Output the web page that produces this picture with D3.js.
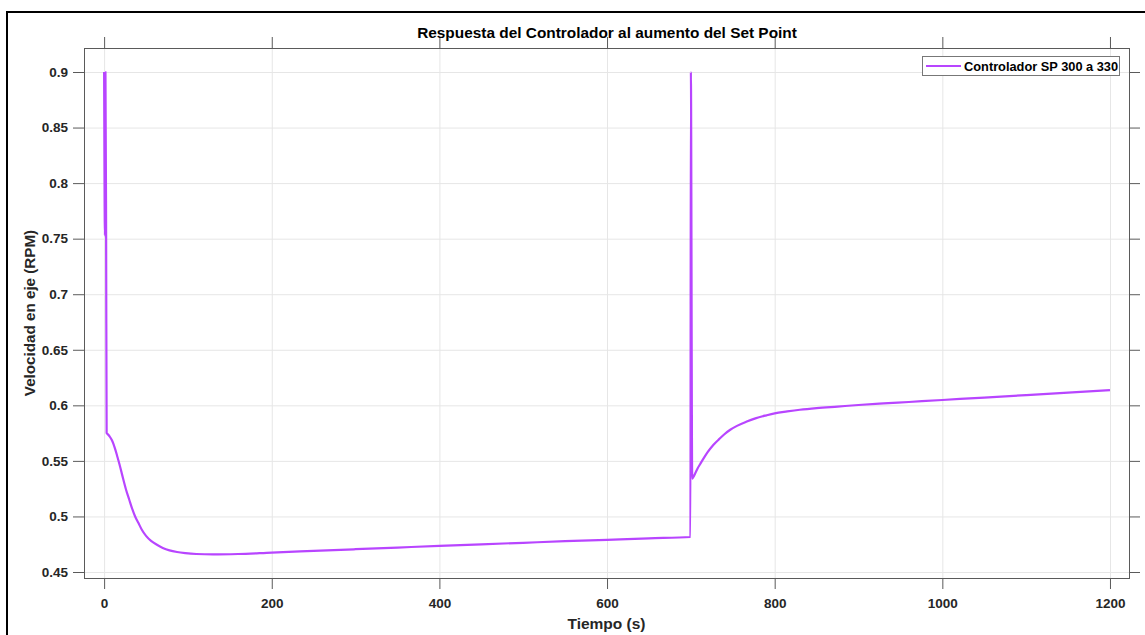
<!DOCTYPE html>
<html>
<head>
<meta charset="utf-8">
<script src="https://cdn.jsdelivr.net/npm/d3@7"></script>
<style>
  html, body { margin: 0; padding: 0; background: #fff; }
  svg { display: block; font-family: "Liberation Sans", Arial, sans-serif; }
  .tick text { font-weight: bold; fill: #262626; }
</style>
</head>
<body>
<svg id="chart" width="1145" height="635"></svg>
<script>
// Controller response: time (s) and shaft speed (RPM)
const time = [0, 1, 1.6, 2.4, 3, 5, 7, 9, 11, 13, 15, 17, 19, 21, 23, 26, 30, 33, 37, 41, 45, 50, 56, 63, 70, 78, 87, 97, 110, 130, 160, 200, 250, 300, 350, 400, 450, 500, 550, 600, 650, 699.5,
  700, 701.6, 703, 705, 708, 711, 715, 720, 727, 734, 740, 747, 755, 766, 777, 790, 800, 815, 830, 850, 875, 900, 930, 960, 1000, 1050, 1100, 1150, 1200];
const speed = [0.9, 0.753, 0.9, 0.753, 0.575, 0.5735, 0.5715, 0.569, 0.5655, 0.561, 0.556, 0.5505, 0.545, 0.539, 0.533, 0.5245, 0.515, 0.508, 0.500, 0.494, 0.488, 0.4825, 0.478, 0.4745, 0.4717, 0.4695, 0.468, 0.467, 0.4662, 0.4658, 0.4662, 0.4675, 0.469, 0.4705, 0.472, 0.4735, 0.4749, 0.4763, 0.4777, 0.479, 0.4803, 0.4815,
  0.9, 0.534, 0.5355, 0.5385, 0.5432, 0.547, 0.552, 0.5578, 0.5645, 0.5698, 0.574, 0.578, 0.5815, 0.5852, 0.5883, 0.591, 0.5928, 0.5945, 0.596, 0.5975, 0.5989, 0.6003, 0.6017, 0.603, 0.6048, 0.607, 0.6092, 0.6114, 0.6137];

const xTicks = [0, 200, 400, 600, 800, 1000, 1200];
const yTicks = [0.45, 0.5, 0.55, 0.6, 0.65, 0.7, 0.75, 0.8, 0.85, 0.9];
const yTickLabels = ["0.45", "0.5", "0.55", "0.6", "0.65", "0.7", "0.75", "0.8", "0.85", "0.9"];

const titleText = "Respuesta del Controlador al aumento del Set Point";
const xLabel = "Tiempo (s)";
const yLabel = "Velocidad en eje (RPM)";
const seriesName = "Controlador SP 300 a 330";
const lineColor = "#b845ff";

const svg = d3.select("#chart");
const W = 1145, H = 635;
const box = { left: 84, right: 1129, top: 48, bottom: 578 };

// outer figure border (left and top edges fall inside the canvas)
svg.append("rect")
  .attr("x", 7).attr("y", 12)
  .attr("width", W + 50).attr("height", H + 50)
  .attr("fill", "none").attr("stroke", "#000").attr("stroke-width", 2);

const x = d3.scaleLinear().domain([-24, 1222.7]).range([box.left, box.right]);
const y = d3.scaleLinear().domain([0.4446, 0.9216]).range([box.bottom, box.top]);

const tickLen = 11;

// grid
const grid = svg.append("g").attr("class", "grid");
grid.append("g")
  .attr("transform", `translate(0,${box.bottom})`)
  .call(d3.axisBottom(x).tickValues(xTicks).tickSize(-(box.bottom - box.top)).tickFormat(""))
  .call(g => g.select(".domain").remove())
  .call(g => g.selectAll("line").attr("stroke", "#e6e6e6"));
grid.append("g")
  .attr("transform", `translate(${box.left},0)`)
  .call(d3.axisLeft(y).tickValues(yTicks).tickSize(-(box.right - box.left)).tickFormat(""))
  .call(g => g.select(".domain").remove())
  .call(g => g.selectAll("line").attr("stroke", "#e6e6e6"));

// axes with outward ticks
const axisColor = "#5a5a5a";
function styleAxis(g) {
  g.select(".domain").remove();
  g.selectAll(".tick line").attr("stroke", axisColor);
  g.selectAll(".tick text").attr("font-size", 13.5).attr("font-weight", "bold").attr("fill", "#262626");
}
svg.append("g")
  .attr("transform", `translate(0,${box.bottom})`)
  .call(d3.axisBottom(x).tickValues(xTicks).tickSize(tickLen).tickPadding(9).tickFormat(d3.format("d")))
  .call(styleAxis);
svg.append("g")
  .attr("transform", `translate(0,${box.top})`)
  .call(d3.axisTop(x).tickValues(xTicks).tickSize(tickLen).tickFormat(""))
  .call(styleAxis);
svg.append("g")
  .attr("transform", `translate(${box.left},0)`)
  .call(d3.axisLeft(y).tickValues(yTicks).tickSize(tickLen).tickPadding(5)
    .tickFormat((d, i) => yTickLabels[i]))
  .call(styleAxis);
svg.append("g")
  .attr("transform", `translate(${box.right},0)`)
  .call(d3.axisRight(y).tickValues(yTicks).tickSize(tickLen).tickFormat(""))
  .call(styleAxis);

// axes box
svg.append("rect")
  .attr("x", box.left + 0.5).attr("y", box.top + 0.5)
  .attr("width", box.right - box.left).attr("height", box.bottom - box.top)
  .attr("fill", "none").attr("stroke", axisColor).attr("stroke-width", 1);

// series line
const data = time.map((t, i) => ({ t, v: speed[i] }));
svg.append("path")
  .datum(data)
  .attr("fill", "none")
  .attr("stroke", lineColor)
  .attr("stroke-width", 2.2)
  .attr("stroke-linejoin", "round")
  .attr("d", d3.line().curve(d3.curveMonotoneX).x(d => x(d.t)).y(d => y(d.v)));

// title and axis labels
svg.append("text")
  .attr("x", (box.left + box.right) / 2 + 0.5).attr("y", 38)
  .attr("text-anchor", "middle")
  .attr("font-size", 15.4).attr("font-weight", "bold").attr("fill", "#000")
  .text(titleText);
svg.append("text")
  .attr("x", (box.left + box.right) / 2).attr("y", 629)
  .attr("text-anchor", "middle")
  .attr("font-size", 15.5).attr("font-weight", "bold").attr("fill", "#262626")
  .text(xLabel);
svg.append("text")
  .attr("transform", `translate(35,${(box.top + box.bottom) / 2}) rotate(-90)`)
  .attr("text-anchor", "middle")
  .attr("font-size", 15.2).attr("font-weight", "bold").attr("fill", "#262626")
  .text(yLabel);

// legend
const leg = svg.append("g");
leg.append("rect")
  .attr("x", 922.5).attr("y", 56.5).attr("width", 197).attr("height", 19)
  .attr("fill", "#fff").attr("stroke", "#777").attr("stroke-width", 1);
leg.append("line")
  .attr("x1", 926).attr("x2", 961).attr("y1", 66).attr("y2", 66)
  .attr("stroke", lineColor).attr("stroke-width", 2.2);
leg.append("text")
  .attr("x", 964).attr("y", 70.5)
  .attr("font-size", 12.8).attr("font-weight", "bold").attr("fill", "#000")
  .text(seriesName);
</script>
</body>
</html>
